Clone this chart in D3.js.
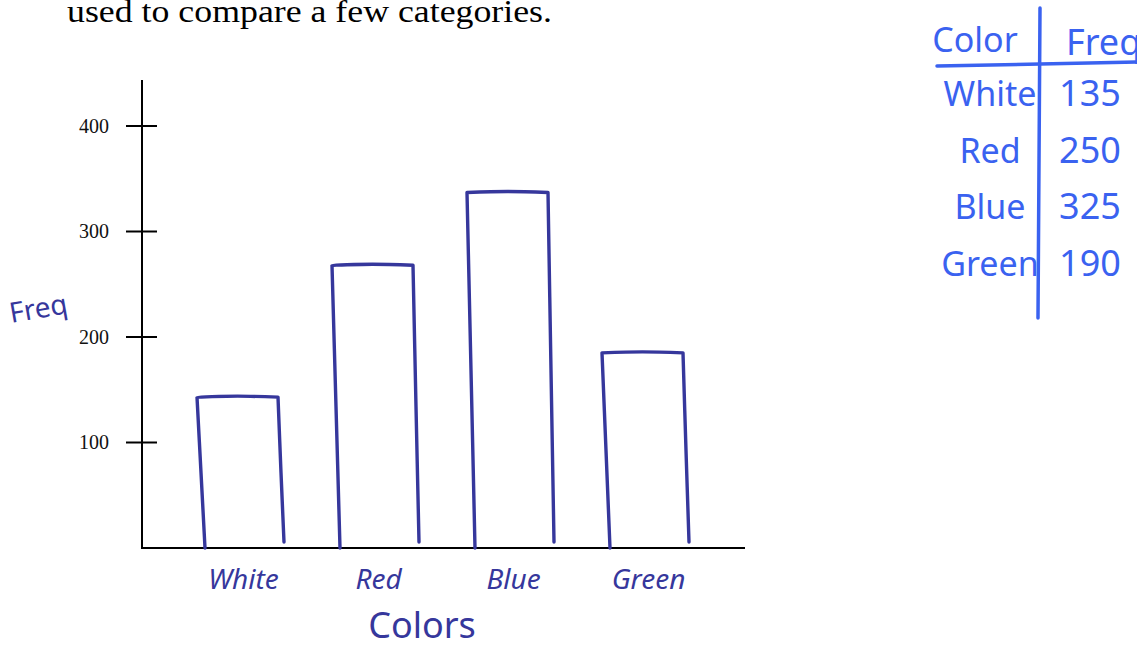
<!DOCTYPE html>
<html><head><meta charset="utf-8">
<script src="https://cdn.jsdelivr.net/npm/d3@7"></script>
<style>body{margin:0;background:#fff}svg{display:block}</style>
</head><body>
<svg id="c" width="1137" height="650"></svg>
<script>
const categories = ["White", "Red", "Blue", "Green"];
const barValues = [143, 268, 337, 185];      // heights as drawn on the chart
const tableFreq = [135, 250, 325, 190];      // values written in the table
const yTicks = [100, 200, 300, 400];
const captionText = "used to compare a few categories.";

const svg = d3.select("#c");
const ink = "#36379c", tableInk = "#3a62f0";
const hand = "'Noto Sans', sans-serif";

svg.append("text").attr("x", 67).attr("y", 22)
  .attr("font-family", "'Liberation Serif', serif").attr("font-size", 31)
  .attr("textLength", 485).attr("lengthAdjust", "spacingAndGlyphs")
  .text(captionText);

const y = d3.scaleLinear().domain([0, 400]).range([548, 126]);
const x = d3.scaleBand().domain(categories).range([170, 710]).paddingInner(0.4).paddingOuter(0.2);

// axes
const g = svg.append("g");
g.append("line").attr("x1", 142).attr("x2", 142).attr("y1", 80).attr("y2", 549)
  .attr("stroke", "#000").attr("stroke-width", 2);
g.append("line").attr("x1", 141).attr("x2", 745).attr("y1", 548).attr("y2", 548)
  .attr("stroke", "#000").attr("stroke-width", 2);
const yAxis = d3.axisLeft(y).tickValues(yTicks).tickSize(0).tickPadding(33);
const ya = g.append("g").attr("transform", "translate(142,0)").call(yAxis)
  .attr("font-family", "'Liberation Serif', serif").attr("font-size", 20);
ya.select(".domain").remove();
ya.selectAll("text").style("font-size", "20px").style("font-family", "'Liberation Serif', serif").attr("fill", "#111");
g.selectAll("line.tk").data(yTicks).join("line").attr("class", "tk")
  .attr("x1", 126).attr("x2", 157).attr("y1", d => y(d)).attr("y2", d => y(d))
  .attr("stroke", "#000").attr("stroke-width", 2);

// hand-drawn bars (open at bottom)
const line = d3.line().curve(d3.curveCatmullRom);
svg.selectAll("path.bar").data(categories).join("path").attr("class", "bar")
  .attr("d", (c, i) => {
    const x0 = x(c), x1 = x(c) + x.bandwidth(), yt = y(barValues[i]), yb = y(0);
    return line([[x0 + 8, yb], [x0 + 4, (yt + yb) / 2], [x0, yt]]) +
      line([[x0, yt], [(x0 + x1) / 2, yt - 1], [x1, yt]]).replace("M", "L") +
      line([[x1, yt], [x1 + 3, (yt + yb) / 2], [x1 + 6, yb - 6]]).replace("M", "L");
  })
  .attr("fill", "none").attr("stroke", ink).attr("stroke-width", 3.4)
  .attr("stroke-linecap", "round").attr("stroke-linejoin", "round");

// category labels
svg.selectAll("text.cat").data(categories).join("text").attr("class", "cat")
  .attr("x", c => x(c) + x.bandwidth() / 2 + 6).attr("y", 589)
  .attr("text-anchor", "middle").attr("font-family", hand).attr("font-size", 28)
  .attr("fill", ink).attr("font-style", "italic").text(c => c);

svg.append("text").attr("x", 422).attr("y", 638).attr("text-anchor", "middle")
  .attr("font-family", hand).attr("font-size", 36).attr("fill", ink).text("Colors");
svg.append("text").attr("transform", "translate(40,318) rotate(-10)").attr("text-anchor", "middle")
  .attr("font-family", hand).attr("font-size", 28).attr("fill", ink).text("Freq");

// table
const t = svg.append("g");
t.append("line").attr("x1", 1040).attr("x2", 1038).attr("y1", 8).attr("y2", 318)
  .attr("stroke", tableInk).attr("stroke-width", 3.5).attr("stroke-linecap", "round");
t.append("line").attr("x1", 937).attr("x2", 1137).attr("y1", 66).attr("y2", 62)
  .attr("stroke", tableInk).attr("stroke-width", 3.5).attr("stroke-linecap", "round");
t.append("text").attr("x", 975).attr("y", 52).attr("text-anchor", "middle")
  .attr("font-family", hand).attr("font-size", 34).attr("fill", tableInk).text("Color");
t.append("text").attr("x", 1066).attr("y", 55)
  .attr("font-family", hand).attr("font-size", 36).attr("fill", tableInk).text("Freq");
const rowY = d3.scalePoint().domain(categories).range([106, 276]);
t.selectAll("text.rc").data(categories).join("text").attr("class", "rc")
  .attr("x", 990).attr("y", c => rowY(c)).attr("text-anchor", "middle")
  .attr("font-family", hand).attr("font-size", 34).attr("fill", tableInk).text(c => c);
t.selectAll("text.rv").data(tableFreq).join("text").attr("class", "rv")
  .attr("x", 1090).attr("y", (d, i) => rowY(categories[i]))
  .attr("text-anchor", "middle").attr("font-family", hand).attr("font-size", 36)
  .attr("fill", tableInk).text(d => d);
</script>
</body></html>
